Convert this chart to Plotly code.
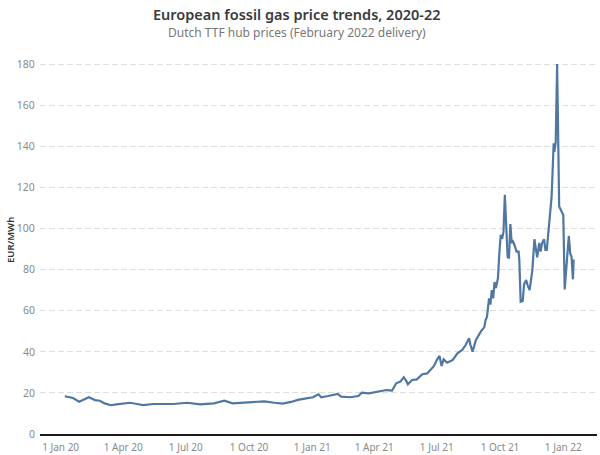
import plotly.graph_objects as go

dates = [
    "2020-01-07", "2020-01-19", "2020-01-28", "2020-02-02", "2020-02-11", "2020-02-20",
    "2020-02-27", "2020-03-05", "2020-03-14", "2020-03-22", "2020-04-01", "2020-04-11",
    "2020-04-21", "2020-04-30", "2020-05-15", "2020-05-30", "2020-06-13", "2020-07-03",
    "2020-07-22", "2020-08-11", "2020-08-26", "2020-09-07", "2020-09-19", "2020-10-04",
    "2020-10-23", "2020-11-07", "2020-11-19", "2020-12-01", "2020-12-11", "2020-12-21",
    "2021-01-02", "2021-01-10", "2021-01-14", "2021-01-24", "2021-02-07", "2021-02-12",
    "2021-02-25", "2021-03-09", "2021-03-14", "2021-03-24", "2021-04-07", "2021-04-19",
    "2021-04-27", "2021-05-03", "2021-05-09", "2021-05-14", "2021-05-17", "2021-05-20",
    "2021-05-26", "2021-06-02", "2021-06-10", "2021-06-17", "2021-06-24", "2021-06-27",
    "2021-07-01", "2021-07-05", "2021-07-08", "2021-07-11", "2021-07-16", "2021-07-24",
    "2021-07-31", "2021-08-07", "2021-08-12", "2021-08-17", "2021-08-19", "2021-08-22",
    "2021-08-27", "2021-09-03", "2021-09-08", "2021-09-10", "2021-09-12", "2021-09-15",
    "2021-09-17", "2021-09-19", "2021-09-21", "2021-09-23", "2021-09-25", "2021-09-28",
    "2021-09-30", "2021-10-02", "2021-10-04", "2021-10-06", "2021-10-08", "2021-10-10",
    "2021-10-12", "2021-10-14", "2021-10-16", "2021-10-18", "2021-10-19", "2021-10-22",
    "2021-10-25", "2021-10-28", "2021-10-29", "2021-10-31", "2021-11-03", "2021-11-05",
    "2021-11-08", "2021-11-10", "2021-11-13", "2021-11-17", "2021-11-20", "2021-11-24",
    "2021-11-27", "2021-11-29", "2021-12-01", "2021-12-04", "2021-12-06", "2021-12-08",
    "2021-12-11", "2021-12-12", "2021-12-15", "2021-12-18", "2021-12-19", "2021-12-21",
    "2021-12-23", "2021-12-26", "2021-12-29", "2022-01-01", "2022-01-03", "2022-01-04",
    "2022-01-07", "2022-01-09", "2022-01-11", "2022-01-13", "2022-01-15", "2022-01-16",
]

prices = [
    18.4, 17.5, 15.7, 16.5, 17.9, 16.5,
    16.2, 14.9, 14.0, 14.4, 14.9, 15.2,
    14.6, 14.1, 14.6, 14.6, 14.6, 15.2,
    14.4, 14.9, 16.2, 14.9, 15.2, 15.4,
    15.9, 15.2, 14.8, 15.6, 16.6, 17.2,
    17.9, 19.3, 17.9, 18.5, 19.5, 18.2,
    17.9, 18.5, 20.1, 19.8, 20.6, 21.4,
    21.1, 24.7, 25.5, 27.6, 26.3, 24.2,
    26.3, 26.6, 29.1, 29.5, 32.0, 33.1,
    36.0, 38.0, 33.1, 36.4, 34.7, 36.0,
    39.3, 40.9, 43.3, 46.6, 43.3, 40.1,
    45.8, 49.8, 51.9, 55.5, 57.0, 66.0,
    63.0, 70.0, 66.0, 74.0, 71.0, 76.0,
    88.0, 97.0, 95.0, 98.5, 116.4, 99.3,
    86.3, 85.5, 102.2, 92.8, 94.4, 92.0,
    88.8, 88.8, 84.7, 64.4, 64.8, 73.0,
    75.0, 72.5, 70.1, 79.8, 94.8, 86.0,
    93.0, 88.8, 92.8, 94.8, 89.6, 89.6,
    101.3, 102.2, 115.5, 141.5, 137.4, 142.3,
    180.1, 110.7, 108.2, 106.6, 70.4, 75.0,
    86.3, 96.4, 87.9, 86.3, 75.3, 85.0,
]

y_ticks = [0, 20, 40, 60, 80, 100, 120, 140, 160, 180]
x_ticks = ["2020-01-01", "2020-04-01", "2020-07-01", "2020-10-01", "2021-01-01",
           "2021-04-01", "2021-07-01", "2021-10-01", "2022-01-01"]
x_labels = ["1 Jan 20", "1 Apr 20", "1 Jul 20", "1 Oct 20", "1 Jan 21",
            "1 Apr 21", "1 Jul 21", "1 Oct 21", "1 Jan 22"]

FONT = "Noto Sans"

fig = go.Figure()
fig.add_trace(go.Scatter(
    x=dates, y=prices, mode="lines",
    line=dict(color="#5077a3", width=2.2),
    hoverinfo="x+y", showlegend=False,
))

fig.update_layout(
    width=600, height=455,
    margin=dict(l=40, r=3, t=56, b=21, autoexpand=False),
    paper_bgcolor="white", plot_bgcolor="white",
    font=dict(family=FONT, color="#8a8a8a", size=10),
    xaxis=dict(
        range=["2019-12-02", "2022-02-19"],
        automargin=False,
        tickmode="array", tickvals=x_ticks, ticktext=x_labels,
        showgrid=False, zeroline=False,
        showline=True, linecolor="#1a1a1a", linewidth=2,
        ticks="outside", ticklen=3, tickcolor="rgba(0,0,0,0)",
        tickfont=dict(size=10, color="#8a8a8a"),
    ),
    yaxis=dict(
        range=[0, 184],
        automargin=False,
        tickmode="array", tickvals=y_ticks,
        showgrid=True, gridcolor="#dedede", gridwidth=1, griddash="6px,3px",
        zeroline=False, showline=False,
        ticks="outside", ticklen=2, tickcolor="rgba(0,0,0,0)",
        tickfont=dict(size=10.5, color="#8a8a8a"),
    ),
    annotations=[
        dict(text="European fossil gas price trends, 2020-22",
             xref="paper", yref="paper", x=(297 - 40) / 557, y=(455 - 14 - 21) / 378,
             xanchor="center", yanchor="middle", showarrow=False,
             font=dict(family=FONT, size=14.5, color="#3a3a3a", weight=600)),
        dict(text="Dutch TTF hub prices (February 2022 delivery)",
             xref="paper", yref="paper", x=(297 - 40) / 557, y=(455 - 32 - 21) / 378,
             xanchor="center", yanchor="middle", showarrow=False,
             font=dict(family=FONT, size=12, color="#777777")),
        dict(text="EUR/MWh",
             xref="paper", yref="paper", x=(10 - 40) / 557, y=(455 - 240 - 21) / 378,
             xanchor="center", yanchor="middle", showarrow=False, textangle=-90,
             font=dict(family=FONT, size=9.5, color="#333333", weight=600)),
    ],
)

fig.write_html("out.html", config={"displayModeBar": False},
               post_script="document.body.style.margin='0px';")
